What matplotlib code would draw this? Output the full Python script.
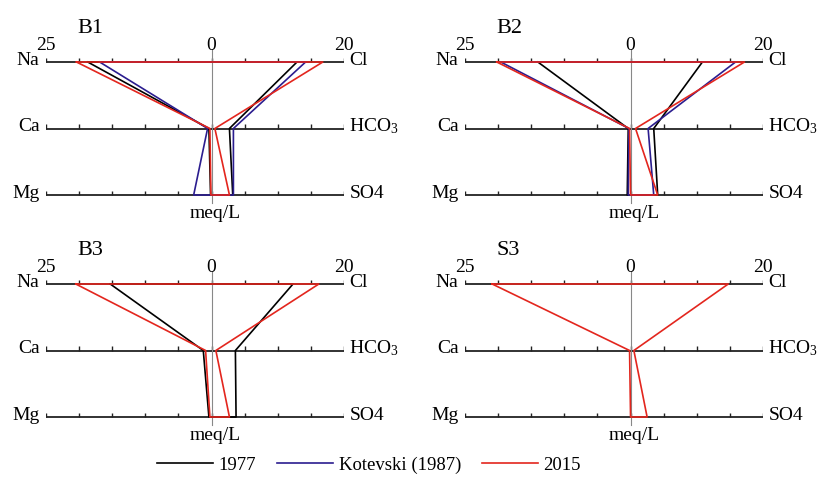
import matplotlib
matplotlib.use('Agg')
import matplotlib.pyplot as plt
import numpy as np

plt.rcParams['font.family'] = 'Liberation Serif'
plt.rcParams['mathtext.fontset'] = 'custom'
plt.rcParams['mathtext.rm'] = 'Liberation Serif'
plt.rcParams['mathtext.it'] = 'Liberation Serif:italic'

### DATA (meq/L)

left_ions = ['Na', 'Ca', 'Mg']
right_ions = ['Cl', 'HCO$_3$', 'SO4']
series_names = ['1977', 'Kotevski (1987)', '2015']
colors = ['black', '#2b1d8f', '#e3261e']

#order: Na, Ca, Mg, Cl, HCO3, SO4
b1_1977 = [18.7, 0.4, 0.15, 12.9, 2.7, 3.2]
b1_1987 = [16.9, 0.6, 2.7, 14.2, 3.3, 3.3]
b1_2015 = [20.4, 0.25, 0.1, 16.8, 0.5, 2.7]

b2_1977 = [14.0, 0.35, 0.5, 10.85, 3.5, 4.1]
b2_1987 = [19.6, 0.25, 0.35, 15.85, 2.65, 3.5]
b2_2015 = [20.2, 0.15, 0.0, 17.2, 0.75, 4.1]

b3_1977 = [15.3, 1.25, 0.4, 12.3, 3.6, 3.7]
b3_2015 = [20.5, 0.9, 0.25, 16.2, 0.65, 2.7]

s3_2015 = [20.9, 0.15, 0.0, 14.75, 0.5, 2.5]

panels = [
    ('B1', 46, 62, [b1_1977, b1_1987, b1_2015]),
    ('B2', 465, 62, [b2_1977, b2_1987, b2_2015]),
    ('B3', 46, 284, [b3_1977, None, b3_2015]),
    ('S3', 465, 284, [None, None, s3_2015]),
]

W, H = 819, 483
row_px = 66.5     #pixels between ion rows
fs = 14
fig = plt.figure(figsize=(W/100, H/100), dpi=100)

for name, x0, y0, series in panels:
    top = y0 - 0.5*row_px
    ax = fig.add_axes([x0/W, 1 - (top + 3*row_px)/H, 298/W, 3*row_px/H])
    ax.set_xlim(-25, 20)
    ax.set_ylim(2.5, -0.5)
    ax.axis('off')

    #axis lines and ticks
    for yi in range(3):
        ax.plot([-25, 20], [yi, yi], color='#222222', lw=1.3, zorder=1)
        ax.vlines(np.arange(-25, 21, 5), yi - 0.065, yi, color='#222222', lw=1, zorder=1)
        ax.text(-26, yi + 0.04, left_ions[yi], ha='right', va='baseline', fontsize=fs)
        ax.text(20.8, yi + 0.04, right_ions[yi], ha='left', va='baseline', fontsize=fs)
    ax.plot([0, 0], [-0.2, 2.12], color='#888888', lw=0.8, zorder=1)

    for v, lab in [(-25, '25'), (0, '0'), (20, '20')]:
        ax.text(v, -0.18, lab, ha='center', va='baseline', fontsize=fs)
    ax.text(0.5, 2.15, 'meq/L', ha='center', va='top', fontsize=fs)
    ax.text(-20.3, -0.44, name, ha='left', va='baseline', fontsize=16)

    #stiff polygons
    for k, d in enumerate(series):
        if d is None:
            continue
        xs = [-d[0], -d[1], -d[2], d[5], d[4], d[3], -d[0]]
        ys = [0, 1, 2, 2, 1, 0, 0]
        ax.plot(xs, ys, color=colors[k], lw=1.2, zorder=3)

#legend
handles = [plt.Line2D([], [], color=c, lw=1.2) for c in colors]
fig.legend(handles, series_names, loc='center', bbox_to_anchor=(369/W, 1 - 465/H),
           ncol=3, frameon=False, fontsize=13.5, handlelength=3.0,
           handletextpad=0.3, columnspacing=1.1)

fig.savefig('out.png', dpi=100)
